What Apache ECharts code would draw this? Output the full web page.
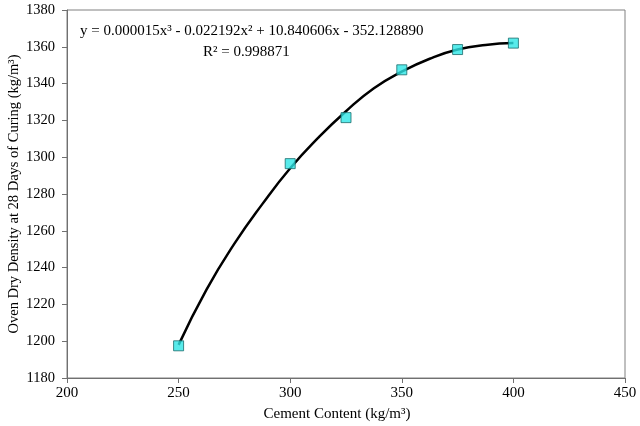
<!DOCTYPE html>
<html>
<head>
<meta charset="utf-8">
<script src="https://cdn.jsdelivr.net/npm/echarts@6/dist/echarts.min.js"></script>
<style>
  html, body { margin: 0; padding: 0; background: #fff; }
  #chart { width: 640px; height: 426px; }
</style>
</head>
<body>
<div id="chart"></div>
<script>
// measured points
const cementContent = [250, 300, 325, 350, 375, 400];
const ovenDryDensity = [1197.5, 1296.5, 1321.5, 1347.5, 1358.5, 1362];

// polynomial trendline
const trendX = [250, 262.5, 275, 287.5, 300, 312.5, 325, 337.5, 350, 362.5, 375, 387.5, 400];
const trendY = [1198, 1228, 1253, 1274.5, 1294, 1310.5, 1325, 1337.5, 1346.5, 1353.5, 1358.5, 1361, 1362];

const equationText = 'y = 0.000015x³ - 0.022192x² + 10.840606x - 352.128890';
const r2Text = 'R² = 0.998871';

const font = 'Liberation Serif';
const chart = echarts.init(document.getElementById('chart'));

const option = {
  animation: false,
  textStyle: { fontFamily: font },
  grid: {
    left: 67,
    right: 15,
    top: 10,
    bottom: 48,
    outerBoundsMode: 'none',
    containLabel: false,
    show: true,
    borderColor: '#808080',
    borderWidth: 1
  },
  xAxis: {
    type: 'value',
    min: 200,
    max: 450,
    interval: 50,
    name: 'Cement Content (kg/m³)',
    nameLocation: 'middle',
    nameGap: 29,
    nameMoveOverlap: false,
    nameTextStyle: { fontFamily: font, fontSize: 15, color: '#000', padding: [0, 18, 0, 0] },
    axisLine: { show: true, lineStyle: { color: '#707070' } },
    axisTick: { show: true, length: 5, lineStyle: { color: '#707070' } },
    axisLabel: { fontFamily: font, fontSize: 15, color: '#000', margin: 8 },
    splitLine: { show: false }
  },
  yAxis: {
    type: 'value',
    min: 1180,
    max: 1380,
    interval: 20,
    name: 'Oven Dry Density at 28 Days of Curing (kg/m³)',
    nameLocation: 'middle',
    nameGap: 45,
    nameMoveOverlap: false,
    nameTextStyle: { fontFamily: font, fontSize: 14.5, color: '#000' },
    axisLine: { show: true, lineStyle: { color: '#707070' } },
    axisTick: { show: true, length: 5, lineStyle: { color: '#707070' } },
    axisLabel: {
      fontFamily: font, fontSize: 14.5, color: '#000', margin: 12,
      formatter: v => String(v)
    },
    splitLine: { show: false }
  },
  series: [
    {
      type: 'line',
      data: trendX.map((x, i) => [x, trendY[i]]),
      smooth: true,
      showSymbol: false,
      lineStyle: { color: '#000', width: 2.5 },
      z: 2
    },
    {
      type: 'scatter',
      data: cementContent.map((x, i) => [x, ovenDryDensity[i]]),
      symbol: 'rect',
      symbolSize: 10,
      itemStyle: { color: '#2ee6e6', borderColor: '#1a6b6b', borderWidth: 1 },
      z: 3
    }
  ],
  graphic: [
    {
      type: 'text',
      left: 80,
      top: 24,
      style: { text: equationText, fontFamily: font, fontSize: 15, fill: '#000' }
    },
    {
      type: 'text',
      left: 203,
      top: 45,
      style: { text: r2Text, fontFamily: font, fontSize: 15, fill: '#000' }
    }
  ]
};

chart.setOption(option);
</script>
</body>
</html>
